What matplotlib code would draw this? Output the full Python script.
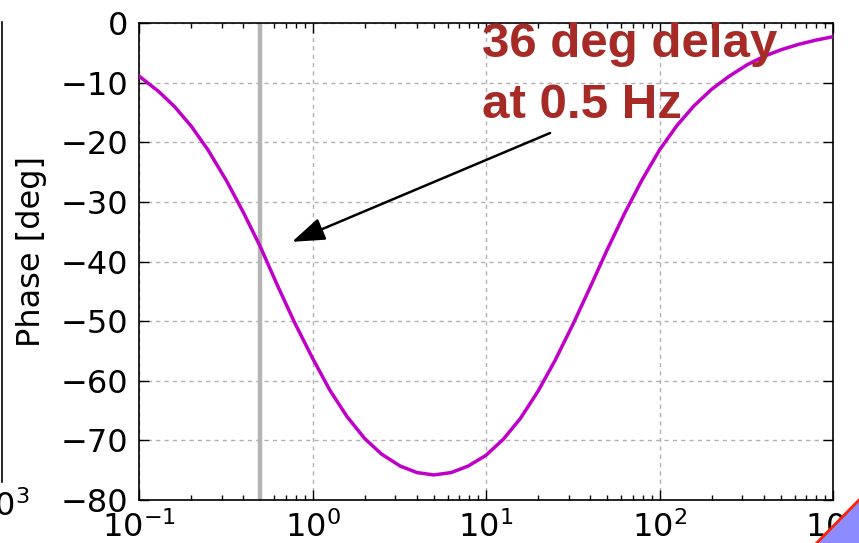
"""
Phase response of the filter, with the delay at 0.5 Hz marked.
"""

import matplotlib
matplotlib.use("Agg")
import matplotlib.pyplot as plt
from matplotlib.patches import Polygon

# Values (about ten points per decade)
freq_hz = [0.1, 0.13, 0.16, 0.2, 0.25, 0.32, 0.4, 0.5, 0.63, 0.79,
           1.0, 1.26, 1.58, 2.0, 2.5, 3.2, 4.0, 5.0, 6.3, 7.9,
           10.0, 12.6, 15.8, 20.0, 25.0, 32.0, 40.0, 50.0, 63.0, 79.0,
           100.0, 126.0, 158.0, 200.0, 250.0, 320.0, 400.0, 500.0, 630.0, 790.0,
           1000.0]
phase_deg = [-8.9, -11.5, -14.0, -17.3, -21.3, -26.5, -31.8, -37.5, -44.1, -50.3,
             -56.2, -61.6, -66.0, -69.7, -72.3, -74.3, -75.4, -75.8, -75.4, -74.3,
             -72.5, -69.8, -66.3, -61.7, -56.6, -50.3, -44.2, -38.0, -31.9, -26.4,
             -21.3, -17.2, -13.9, -11.1, -9.0, -7.0, -5.6, -4.5, -3.6, -2.9,
             -2.3]

MARK_FREQ = 0.5
ARROW_TIP = (0.762, -36.7)
ARROW_TAIL = (23.4, -18.45)
NOTE_LINES = ["36 deg delay", "at 0.5 Hz"]
NOTE_X = 9.5
NOTE_Y = [-5.7, -15.93]

yticks = [0, -10, -20, -30, -40, -50, -60, -70, -80]


def main():
    fig = plt.figure(figsize=(8.59, 5.43), dpi=100)
    W, H = 859.0, 543.0

    # sliver of the neighbouring subplot on the left
    ax0 = fig.add_axes([-0.8, 1 - 482 / H, 0.8 + 1.5 / W, (482 - 22) / H])
    ax0.set_xscale('log')
    ax0.set_xlim(0.1, 1000)
    ax0.set_xticks([1000])
    ax0.set_xticklabels([r'$10^{3}$'])
    ax0.set_yticks([])
    ax0.tick_params(axis='x', labelsize=23, length=0, pad=6, which='both')
    ax0.minorticks_off()
    for side in ['top', 'left', 'bottom']:
        ax0.spines[side].set_visible(False)
    ax0.spines['right'].set_linewidth(1.2)

    ax = fig.add_axes([139 / W, 1 - 500 / H, (833 - 139) / W, (500 - 23) / H])
    ax.semilogx(freq_hz, phase_deg, color='#c000c8', lw=2.5, zorder=3)
    ax.axvline(MARK_FREQ, color='#b4b4b4', lw=3.2, zorder=2)

    ax.set_xlim(0.1, 1000)
    ax.set_ylim(-80, 0)
    ax.set_yticks(yticks)
    ax.grid(True, which='major', color='#b0b0b0', linestyle=(0, (3, 3)), lw=1)
    ax.tick_params(which='both', direction='in', top=True, right=True,
                   labelsize=23, pad=8, width=1)
    ax.tick_params(which='major', length=7)
    ax.tick_params(which='minor', length=3.5)
    for s in ax.spines.values():
        s.set_linewidth(1.2)

    ax.set_ylabel('Phase [deg]', fontsize=23)
    ax.yaxis.set_label_coords(-0.133, 0.52)

    ax.annotate('', xy=ARROW_TIP, xytext=ARROW_TAIL,
                arrowprops=dict(arrowstyle='-|>,head_length=1.0,head_width=0.35',
                                color='black', lw=1.8, mutation_scale=20,
                                shrinkA=0, shrinkB=0), zorder=5)
    for line, y in zip(NOTE_LINES, NOTE_Y):
        ax.text(NOTE_X, y, line, color='#a62b27', fontsize=35.5,
                family='Liberation Sans', fontweight='bold',
                ha='left', va='baseline', zorder=6)

    # corner decoration at bottom right
    tri = Polygon([(816.7 / W, 0), (1, 43 / H), (1, 0)], closed=True,
                  transform=fig.transFigure, facecolor='#8c8cff',
                  edgecolor='none', zorder=10)
    fig.patches.append(tri)
    fig.lines.append(plt.Line2D([816.7 / W, 1], [0, 43 / H], color='#ff2000',
                                lw=2, transform=fig.transFigure, zorder=11))

    fig.savefig('out.png', dpi=100)
    plt.close(fig)


if __name__ == "__main__":
    main()
